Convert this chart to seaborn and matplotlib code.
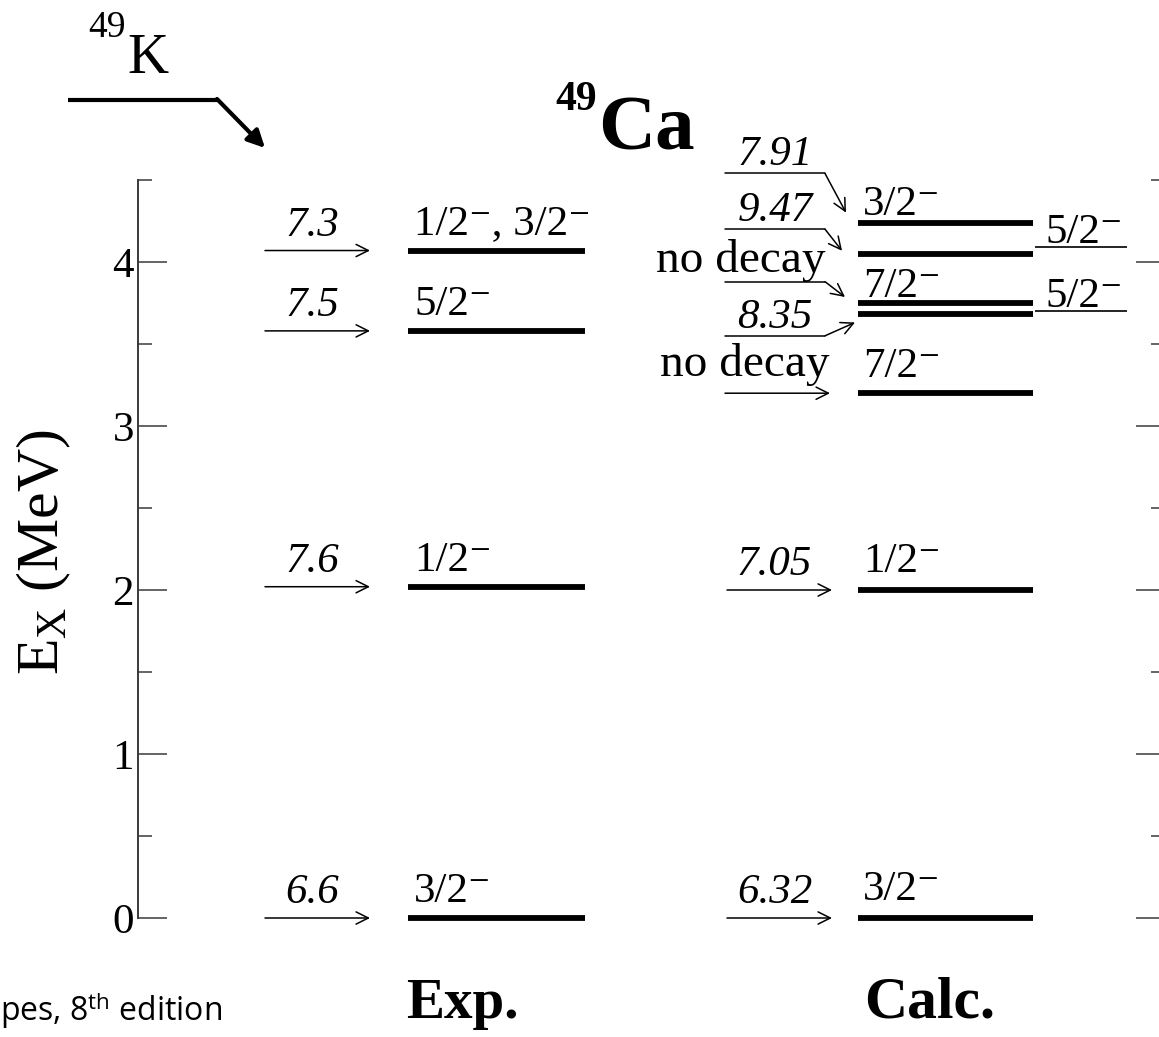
import numpy as np
import pandas as pd
import matplotlib
matplotlib.use("Agg")
import matplotlib.pyplot as plt
import seaborn as sns

# ---- level data (excitation energy in MeV) ----
exp_energy = [0.0, 2.02, 3.58, 4.07]
exp_spin = ["3/2⁻", "1/2⁻", "5/2⁻", "1/2⁻, 3/2⁻"]
exp_logft = ["6.6", "7.6", "7.5", "7.3"]

calc_energy = [0.0, 2.00, 3.20, 3.68, 3.75, 4.05, 4.24]
calc_spin = ["3/2⁻", "1/2⁻", "7/2⁻", "", "7/2⁻", "", "3/2⁻"]
calc_logft = ["6.32", "7.05", "no decay", "8.35", "no decay", "9.47", "7.91"]

side_energy = [3.70, 4.09]
side_spin = ["5/2⁻", "5/2⁻"]

ytick_values = [0, 1, 2, 3, 4]

# ---- figure geometry (x axis in pixel-like units) ----
W, H = 1159, 1037
X0, X1 = 138, 1165
Y_PER_MEV = 164.0
EXP_BAR = (408, 585)
EXP_ARROW = (265, 370)
CALC_BAR = (858, 1033)
CALC_ARROW = (727, 832)
SIDE_BAR = (1035, 1127)

sns.set_theme(style="ticks")
SERIF = ["Liberation Serif", "DejaVu Serif"]
plt.rcParams["font.family"] = SERIF
plt.rcParams["mathtext.fontset"] = "custom"
plt.rcParams["mathtext.rm"] = "Liberation Serif"
plt.rcParams["mathtext.it"] = "Liberation Serif:italic"
plt.rcParams["mathtext.bf"] = "Liberation Serif:bold"
for key in ["text.color", "axes.labelcolor", "xtick.color", "ytick.color"]:
    plt.rcParams[key] = "black"

fig = plt.figure(figsize=(W / 100, H / 100), dpi=100)
ax_bottom = (H - 918) / H
ax_height = 4.5 * Y_PER_MEV / H
ax = fig.add_axes([X0 / W, ax_bottom, (X1 - X0) / W, ax_height])
ax.set_xlim(X0, X1)
ax.set_ylim(0, 4.5)


def px(d):
    """pixel distance -> MeV"""
    return d / Y_PER_MEV


def level_frame(energies, span, tag):
    rows = []
    for i, e in enumerate(energies):
        rows.append({"lvl": f"{tag}{i}", "x": span[0], "E": e})
        rows.append({"lvl": f"{tag}{i}", "x": span[1], "E": e})
    return pd.DataFrame(rows)


# thick level bars
levels = pd.concat([level_frame(exp_energy, EXP_BAR, "e"),
                    level_frame(calc_energy, CALC_BAR, "c")])
sns.lineplot(data=levels, x="x", y="E", units="lvl", estimator=None,
             color="black", lw=4.2, ax=ax, legend=False)
# thin side levels
side = level_frame(side_energy, SIDE_BAR, "s")
sns.lineplot(data=side, x="x", y="E", units="lvl", estimator=None,
             color="black", lw=1.2, ax=ax, legend=False)
for ln in ax.lines:
    ln.set_clip_on(False)
    ln.set_solid_capstyle("butt")

arrow_kw = dict(arrowstyle="->", lw=1.1, color="black", shrinkA=0, shrinkB=0,
                mutation_scale=22)
FS = 31


def straight_feed(x_span, e, label, dy=15):
    ax.annotate("", xy=(x_span[1], e), xytext=(x_span[0], e), arrowprops=arrow_kw,
                annotation_clip=False)
    ax.text((x_span[0] + x_span[1]) / 2 - 5, e + px(dy), label, fontsize=FS,
            style="italic", ha="center", va="baseline")


# experimental column
for e, spin, ft in zip(exp_energy, exp_spin, exp_logft):
    straight_feed(EXP_ARROW, e, ft)
    ax.text(EXP_BAR[0] + 6, e + px(16), spin, fontsize=FS, ha="left",
            va="baseline")

# calculated column: three lowest feeds with straight arrows
for e, ft in zip(calc_energy[:2], calc_logft[:2]):
    straight_feed(CALC_ARROW, e, ft)
ax.annotate("", xy=(830, calc_energy[2]), xytext=(725, calc_energy[2]),
            arrowprops=arrow_kw)
ax.text(830, calc_energy[2] + px(17), calc_logft[2], fontsize=34, ha="right",
        va="baseline")

# upper cluster: bent feeding arrows (level index, shelf height, tip x, tip offset px)
bent = [(3, 3.55, 855, -8), (4, 3.88, 845, 6), (5, 4.20, 842, 3), (6, 4.54, 846, 10)]
for idx, shelf, tipx, tipdy in bent:
    e = calc_energy[idx]
    ax.plot([725, 825], [shelf, shelf], color="black", lw=1.1, clip_on=False)
    ax.annotate("", xy=(tipx, e + px(tipdy)), xytext=(825, shelf),
                arrowprops=arrow_kw, annotation_clip=False)
    lab = calc_logft[idx]
    if lab == "no decay":
        ax.text(826, shelf + px(10), lab, fontsize=34, ha="right", va="baseline")
    else:
        ax.text(775, shelf + px(8), lab, fontsize=FS, style="italic",
                ha="center", va="baseline", clip_on=False)

# calculated spin labels
calc_label_dy = [18, 18, 16, 0, 6, 0, 8]
for e, spin, dy in zip(calc_energy, calc_spin, calc_label_dy):
    if spin:
        ax.text(CALC_BAR[0] + 5, e + px(dy), spin, fontsize=FS, ha="left",
                va="baseline", clip_on=False)

# side column labels
for e, spin in zip(side_energy, side_spin):
    ax.text(SIDE_BAR[1] - 4, e + px(4), spin, fontsize=FS, ha="right",
            va="baseline")

# ---- axes styling ----
for s in ["top", "bottom"]:
    ax.spines[s].set_visible(False)
for s in ["left", "right"]:
    ax.spines[s].set_color("#3a3a3a")
    ax.spines[s].set_linewidth(1.4)
ax.xaxis.set_visible(False)
ax.set_yticks(ytick_values)
ax.set_yticks(np.arange(0.5, 4.6, 1.0), minor=True)
ax.set_yticklabels([str(v) for v in ytick_values], fontsize=31)
ax.tick_params(axis="y", which="major", direction="in", length=21, width=1.1,
               left=True, right=True, labelleft=True, labelright=False, pad=3,
               color="#3a3a3a")
ax.tick_params(axis="y", which="minor", direction="in", length=10, width=1.1,
               left=True, right=True, color="#3a3a3a")
ax.set_ylabel("")


def fpos(x, y):
    return x / W, 1 - y / H


fig.text(*fpos(44, 552), "E$_{\\mathrm{X}}$ (MeV)", rotation=90, fontsize=43,
         ha="center", va="center")

# column titles
fig.text(*fpos(462, 1018), "Exp.", fontsize=41, fontweight="bold", ha="center",
         va="baseline")
fig.text(*fpos(930, 1018), "Calc.", fontsize=43, fontweight="bold", ha="center",
         va="baseline")

# nucleus labels
fig.text(*fpos(597, 110), "49", fontsize=30, fontweight="bold", ha="right",
         va="baseline")
fig.text(*fpos(598, 150), "Ca", fontsize=57, fontweight="bold", ha="left",
         va="baseline")
fig.text(*fpos(126, 37), "49", fontsize=27, ha="right", va="baseline")
fig.text(*fpos(127, 73), "K", fontsize=41, ha="left", va="baseline")

# parent decay arrow
fig.add_artist(plt.Line2D([68 / W, 218 / W], [1 - 100 / H, 1 - 100 / H],
                          color="black", lw=3.0, solid_capstyle="butt"))
fig.add_artist(matplotlib.patches.FancyArrowPatch(
    fpos(217, 99), fpos(265, 148), transform=fig.transFigure,
    arrowstyle="-|>", mutation_scale=26, lw=3.0, color="black",
    shrinkA=0, shrinkB=0))

# source note
fig.text(*fpos(0, 1020), "pes, 8$^{\\mathregular{th}}$ edition", fontsize=23,
         family="Open Sans", ha="left", va="baseline")

fig.savefig("out.png", dpi=100)
